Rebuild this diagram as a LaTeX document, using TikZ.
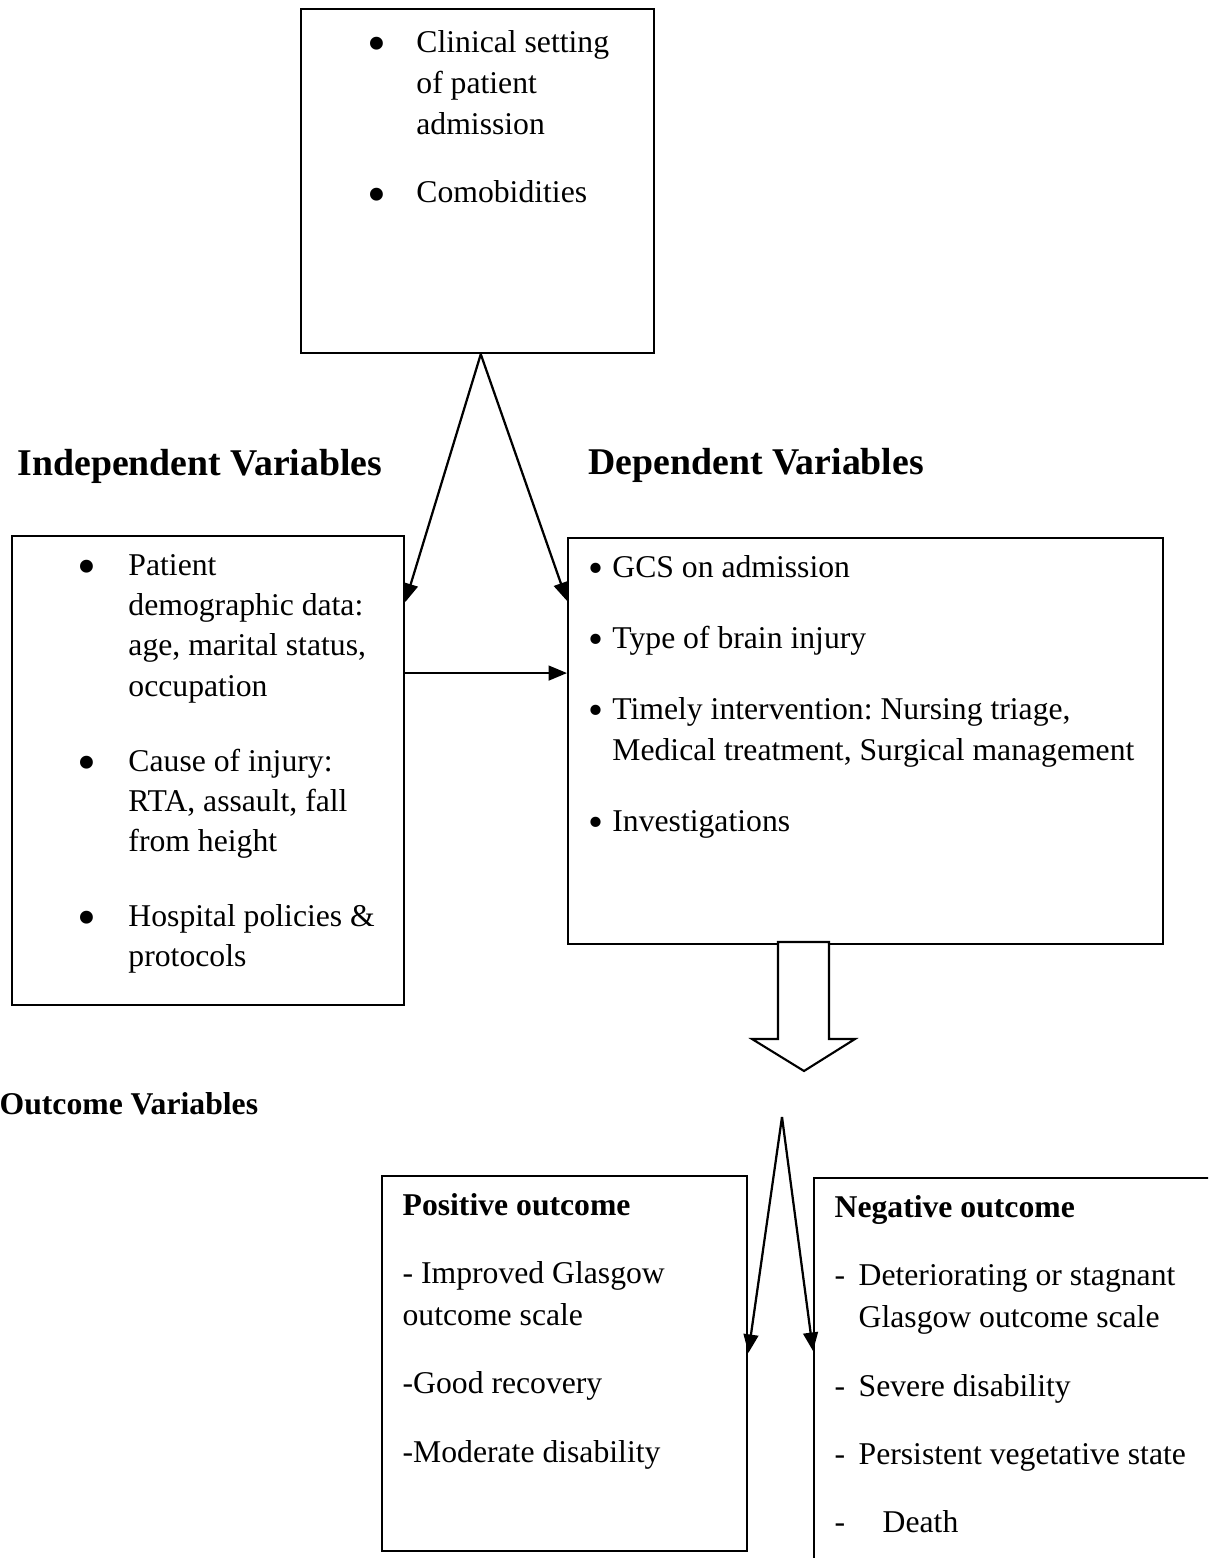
\documentclass[tikz,border=0pt]{standalone}
\usepackage{fontspec}
\setmainfont{Liberation Serif}
\usetikzlibrary{arrows.meta,positioning}
\tikzstyle{box}=[
	rectangle,
	draw,
	line width=0.85pt,
	anchor=north west,
	inner sep=0pt
]
\tikzstyle{txt}=[
	inner sep=0pt,
	anchor=base west
]
\tikzstyle{heading}=[
	inner sep=0pt,
	anchor=base west,
	font=\bfseries\fontsize{14.3}{17}\selectfont
]
\tikzstyle{link}=[
	->,
	>={Triangle[length=7pt,width=5.6pt]},
	line width=0.85pt
]
\tikzstyle{hollow}=[
	draw,
	fill=white,
	line width=0.8pt,
	line join=miter
]
\newcommand{\bulletmark}{\kern-1.4pt\raisebox{-3.5pt}{\scalebox{1.7}{\textbullet}}}
\newcommand{\bitem}[2]{\par\hangindent=#1\hangafter=1\noindent\makebox[#1][l]{\bulletmark}\ignorespaces#2\par}
\newcommand{\ditem}[1]{\par\hangindent=9.1pt\hangafter=1\noindent\makebox[9.1pt][l]{-}\ignorespaces#1\par}
\frenchspacing
\begin{document}
\begin{tikzpicture}[x=0.3788pt,y=-0.3788pt]
\useasboundingbox (0,0) rectangle (1208,1558);
\clip (0,0) rectangle (1208,1558);
% boxes
\node [box, minimum width=133.7pt, minimum height=130.3pt] (ctx) at (300,8) {};
\node [box, minimum width=148.5pt, minimum height=177.7pt] (indep) at (11,535) {};
\node [box, minimum width=225.4pt, minimum height=153.8pt] (dep) at (567,537) {};
\node [box, minimum width=138.3pt, minimum height=142pt] (pos) at (381,1175) {};
\node [box, minimum width=155.3pt, minimum height=151.5pt] (neg) at (813,1177) {};
% box contents
\node [txt] (ctxtext) [below right=16.7pt and 26.7pt of ctx.north west, anchor=base west]
	{\parbox[t]{110pt}{\fontsize{12}{15.7}\selectfont\parskip=10pt
	\bitem{17.2pt}{Clinical setting\\of patient\\admission}
	\bitem{17.2pt}{Comobidities}}};
\node [txt] (indeptext) [below right=15.2pt and 26.3pt of indep.north west, anchor=base west]
	{\parbox[t]{125pt}{\fontsize{12}{15.3}\selectfont\parskip=13pt
	\bitem{18pt}{Patient\\demographic data:\\age, marital status,\\occupation}
	\bitem{18pt}{Cause of injury:\\RTA, assault, fall\\from height}
	\bitem{18pt}{Hospital policies \&\\protocols}}};
\node [txt] (deptext) [below right=15.5pt and 8.7pt of dep.north west, anchor=base west]
	{\parbox[t]{215pt}{\fontsize{12}{15.5}\selectfont\parskip=11.4pt
	\renewcommand{\bulletmark}{\kern-0.6pt\raisebox{-1.7pt}{\scalebox{1.35}{\textbullet}}}%
	\bitem{8.3pt}{GCS on admission}
	\bitem{8.3pt}{Type of brain injury}
	\bitem{8.3pt}{Timely intervention: Nursing triage,\\Medical treatment, Surgical management}
	\bitem{8.3pt}{Investigations}}};
\node [txt] (postext) [below right=15.2pt and 8pt of pos.north west, anchor=base west]
	{\parbox[t]{125pt}{\fontsize{12}{15.9}\selectfont\parskip=10pt
	\textbf{Positive outcome}\par
	- Improved Glasgow\\outcome scale\par
	-Good recovery\par
	-Moderate disability}};
\node [txt] (negtext) [below right=15.2pt and 8pt of neg.north west, anchor=base west]
	{\parbox[t]{140pt}{\fontsize{12}{16}\selectfont\parskip=9.9pt
	\textbf{Negative outcome}\par
	\ditem{Deteriorating or stagnant\\Glasgow outcome scale}
	\ditem{Severe disability}
	\ditem{Persistent vegetative state}
	\ditem{\hspace*{9.1pt}Death}}};
% headings
\node [heading] (indeplabel) [above right=22.7pt and 2.3pt of indep.north west, anchor=base west] {Independent Variables};
\node [heading] (deplabel) [above right=23.5pt and 8pt of dep.north west, anchor=base west] {Dependent Variables};
\node [heading, font=\bfseries\fontsize{12}{14}\selectfont] (outlabel) [below right=40.9pt and -4.5pt of indep.south west, anchor=base west] {Outcome Variables};
% connectors
\draw [link] ([xshift=1.2pt]ctx.south) -- ([yshift=-25.4pt]indep.north east);
\draw [link] ([xshift=1.2pt]ctx.south) -- ([yshift=-24.2pt]dep.north west);
\coordinate (demo) at ([yshift=-52.3pt]indep.north east);
\draw [link] (demo) -- (demo -| dep.west);
\draw [hollow] (778,942) -- (778,1039) -- (752,1039) -- (804,1071) -- (855,1039) -- (829,1039) -- (829,942) -- cycle;
\coordinate (split) at (782,1117);
\draw [link] (split) -- ([yshift=-67.4pt]pos.north east);
\draw [link] (split) -- ([yshift=-65.9pt]neg.north west);
\end{tikzpicture}
\end{document}
